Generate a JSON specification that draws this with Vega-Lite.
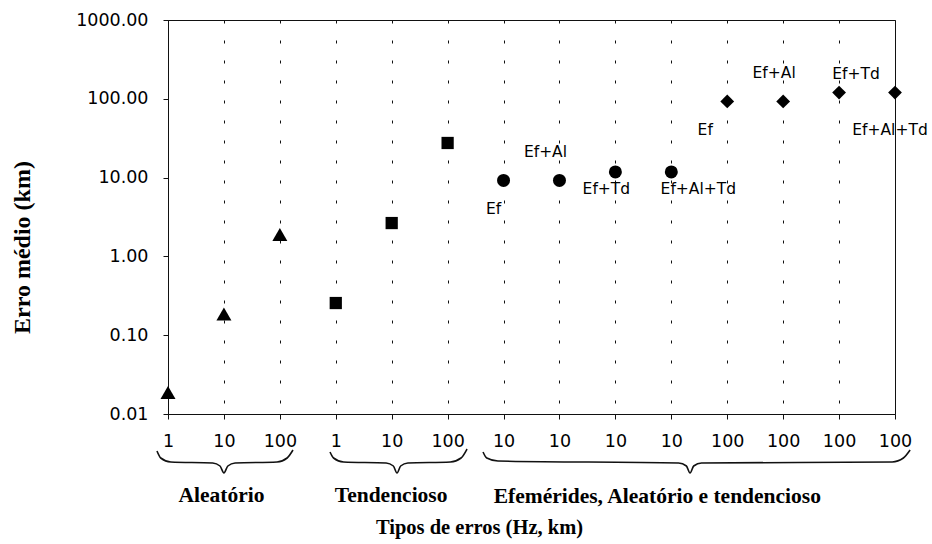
{
  "$schema": "https://vega.github.io/schema/vega-lite/v6.json",
  "width": 727,
  "height": 394,
  "autosize": "none",
  "padding": {"left": 168, "top": 20, "right": 37, "bottom": 130},
  "background": "white",
  "config": {"view": {"stroke": "#111", "strokeWidth": 1}},
  "layer": [
    {
      "data": {"values": [
        {"idx": 0, "value": 0.0187, "group": "Aleatório", "label": ""},
        {"idx": 1, "value": 0.186, "group": "Aleatório", "label": ""},
        {"idx": 2, "value": 1.9, "group": "Aleatório", "label": ""},
        {"idx": 3, "value": 0.256, "group": "Tendencioso", "label": ""},
        {"idx": 4, "value": 2.65, "group": "Tendencioso", "label": ""},
        {"idx": 5, "value": 27.5, "group": "Tendencioso", "label": ""},
        {"idx": 6, "value": 9.2, "group": "Efemérides 10", "label": "Ef"},
        {"idx": 7, "value": 9.2, "group": "Efemérides 10", "label": "Ef+Al"},
        {"idx": 8, "value": 11.8, "group": "Efemérides 10", "label": "Ef+Td"},
        {"idx": 9, "value": 11.8, "group": "Efemérides 10", "label": "Ef+Al+Td"},
        {"idx": 10, "value": 92.5, "group": "Efemérides 100", "label": "Ef"},
        {"idx": 11, "value": 92.5, "group": "Efemérides 100", "label": "Ef+Al"},
        {"idx": 12, "value": 120, "group": "Efemérides 100", "label": "Ef+Td"},
        {"idx": 13, "value": 120, "group": "Efemérides 100", "label": "Ef+Al+Td"}
      ]},
      "encoding": {
        "x": {"field": "idx", "type": "quantitative",
          "scale": {"domain": [0, 13], "nice": false, "zero": false},
          "axis": {
            "title": "Tipos de erros (Hz, km)",
            "values": [0, 1, 2, 3, 4, 5, 6, 7, 8, 9, 10, 11, 12, 13],
            "labelExpr": "['1','10','100','1','10','100','10','10','10','10','100','100','100','100'][datum.value]",
            "grid": true, "gridDash": [3, 17], "gridColor": "#111", "gridOpacity": 1, "gridWidth": 1,
            "domainColor": "#111", "tickColor": "#111", "tickSize": 5,
            "labelFont": "DejaVu Sans", "labelFontSize": 17.5, "labelPadding": 13, "labelColor": "#000",
            "labelOverlap": false, "labelFlush": false, "labelBound": false,
            "titleFont": "Liberation Serif", "titleFontSize": 20.5, "titleFontWeight": "bold", "titleColor": "#000",
            "titleX": 311, "titleY": 119, "titleBaseline": "alphabetic", "titleAlign": "center"
          }},
        "y": {"field": "value", "type": "quantitative",
          "scale": {"type": "log", "domain": [0.01, 1000], "nice": false},
          "axis": {
            "title": "Erro médio (km)",
            "values": [0.01, 0.1, 1, 10, 100, 1000], "format": ".2f",
            "grid": false, "domainColor": "#111", "tickColor": "#111", "tickSize": 5,
            "labelFont": "DejaVu Sans", "labelFontSize": 17.5, "labelPadding": 15, "labelColor": "#000",
            "labelOverlap": false, "labelFlush": false,
            "titleFont": "Liberation Serif", "titleFontSize": 24, "titleFontWeight": "bold", "titleColor": "#000",
            "titleX": -146, "titleY": 227, "titleAlign": "center", "titleBaseline": "middle", "titleAngle": 270
          }}
      },
      "layer": [
        {"transform": [{"filter": "datum.group == 'Aleatório'"}],
         "mark": {"type": "point", "shape": "triangle-up", "size": 225, "filled": true, "opacity": 1, "color": "#000"}},
        {"transform": [{"filter": "datum.group == 'Tendencioso'"}],
         "mark": {"type": "point", "shape": "square", "size": 150, "filled": true, "opacity": 1, "color": "#000"}},
        {"transform": [{"filter": "datum.group == 'Efemérides 10'"}],
         "mark": {"type": "point", "shape": "circle", "size": 169, "filled": true, "opacity": 1, "color": "#000"}},
        {"transform": [{"filter": "datum.group == 'Efemérides 100'"}],
         "mark": {"type": "point", "shape": "diamond", "size": 190, "filled": true, "opacity": 1, "color": "#000"}},
        {"transform": [{"filter": "datum.group == 'Efemérides 10' && datum.label == 'Ef'"}],
         "mark": {"type": "text", "font": "DejaVu Sans", "fontSize": 15.5, "color": "#000", "dx": -10, "dy": 29},
         "encoding": {"text": {"field": "label"}}},
        {"transform": [{"filter": "datum.group == 'Efemérides 10' && datum.label == 'Ef+Al'"}],
         "mark": {"type": "text", "font": "DejaVu Sans", "fontSize": 15.5, "color": "#000", "dx": -14, "dy": -28},
         "encoding": {"text": {"field": "label"}}},
        {"transform": [{"filter": "datum.group == 'Efemérides 10' && datum.label == 'Ef+Td'"}],
         "mark": {"type": "text", "font": "DejaVu Sans", "fontSize": 15.5, "color": "#000", "dx": -9, "dy": 17},
         "encoding": {"text": {"field": "label"}}},
        {"transform": [{"filter": "datum.group == 'Efemérides 10' && datum.label == 'Ef+Al+Td'"}],
         "mark": {"type": "text", "font": "DejaVu Sans", "fontSize": 15.5, "color": "#000", "dx": 27, "dy": 17},
         "encoding": {"text": {"field": "label"}}},
        {"transform": [{"filter": "datum.group == 'Efemérides 100' && datum.label == 'Ef'"}],
         "mark": {"type": "text", "font": "DejaVu Sans", "fontSize": 15.5, "color": "#000", "dx": -22, "dy": 29},
         "encoding": {"text": {"field": "label"}}},
        {"transform": [{"filter": "datum.group == 'Efemérides 100' && datum.label == 'Ef+Al'"}],
         "mark": {"type": "text", "font": "DejaVu Sans", "fontSize": 15.5, "color": "#000", "dx": -9, "dy": -28},
         "encoding": {"text": {"field": "label"}}},
        {"transform": [{"filter": "datum.group == 'Efemérides 100' && datum.label == 'Ef+Td'"}],
         "mark": {"type": "text", "font": "DejaVu Sans", "fontSize": 15.5, "color": "#000", "dx": 17, "dy": -19},
         "encoding": {"text": {"field": "label"}}},
        {"transform": [{"filter": "datum.group == 'Efemérides 100' && datum.label == 'Ef+Al+Td'"}],
         "mark": {"type": "text", "font": "DejaVu Sans", "fontSize": 15.5, "color": "#000", "dx": -5, "dy": 37},
         "encoding": {"text": {"field": "label"}}}
      ]
    },
    {
      "layer": [
        {
          "data": {"values": [
            {"brace": "A", "idx": -0.197, "depth": 37},
            {"brace": "A", "idx": -0.13, "depth": 44},
            {"brace": "A", "idx": 0.05, "depth": 48},
            {"brace": "A", "idx": 0.8, "depth": 49},
            {"brace": "A", "idx": 0.93, "depth": 52},
            {"brace": "A", "idx": 1.0, "depth": 59},
            {"brace": "A", "idx": 1.07, "depth": 52},
            {"brace": "A", "idx": 1.2, "depth": 49},
            {"brace": "A", "idx": 1.95, "depth": 48},
            {"brace": "A", "idx": 2.13, "depth": 44},
            {"brace": "A", "idx": 2.235, "depth": 36},
            {"brace": "T", "idx": 2.897, "depth": 38},
            {"brace": "T", "idx": 2.96, "depth": 44},
            {"brace": "T", "idx": 3.14, "depth": 48},
            {"brace": "T", "idx": 3.9, "depth": 49},
            {"brace": "T", "idx": 4.03, "depth": 52},
            {"brace": "T", "idx": 4.095, "depth": 59},
            {"brace": "T", "idx": 4.16, "depth": 52},
            {"brace": "T", "idx": 4.29, "depth": 49},
            {"brace": "T", "idx": 5.05, "depth": 48},
            {"brace": "T", "idx": 5.24, "depth": 44},
            {"brace": "T", "idx": 5.347, "depth": 35},
            {"brace": "E", "idx": 5.633, "depth": 38},
            {"brace": "E", "idx": 5.7, "depth": 44},
            {"brace": "E", "idx": 5.9, "depth": 47},
            {"brace": "E", "idx": 9.13, "depth": 49},
            {"brace": "E", "idx": 9.27, "depth": 52},
            {"brace": "E", "idx": 9.335, "depth": 59},
            {"brace": "E", "idx": 9.4, "depth": 52},
            {"brace": "E", "idx": 9.54, "depth": 49},
            {"brace": "E", "idx": 12.95, "depth": 48},
            {"brace": "E", "idx": 13.15, "depth": 44},
            {"brace": "E", "idx": 13.27, "depth": 36}
          ]},
          "mark": {"type": "line", "color": "#111", "strokeWidth": 1.6, "interpolate": "monotone", "clip": false},
          "encoding": {
            "x": {"field": "idx", "type": "quantitative", "scale": {"domain": [0, 13], "nice": false, "zero": false}},
            "y": {"field": "depth", "type": "quantitative", "scale": {"domain": [0, -394], "nice": false, "zero": false}, "axis": null},
            "detail": {"field": "brace"}
          }
        },
        {
          "data": {"values": [
            {"idx": 0.957, "depth": 88, "text": "Aleatório"},
            {"idx": 3.99, "depth": 88, "text": "Tendencioso"},
            {"idx": 8.75, "depth": 89, "text": "Efemérides, Aleatório e tendencioso"}
          ]},
          "mark": {"type": "text", "font": "Liberation Serif", "fontSize": 21.5, "fontWeight": "bold", "color": "#000", "baseline": "alphabetic", "align": "center", "clip": false},
          "encoding": {
            "x": {"field": "idx", "type": "quantitative", "scale": {"domain": [0, 13], "nice": false, "zero": false}},
            "y": {"field": "depth", "type": "quantitative", "scale": {"domain": [0, -394], "nice": false, "zero": false}, "axis": null},
            "text": {"field": "text"}
          }
        }
      ]
    }
  ],
  "resolve": {"scale": {"y": "independent"}}
}
